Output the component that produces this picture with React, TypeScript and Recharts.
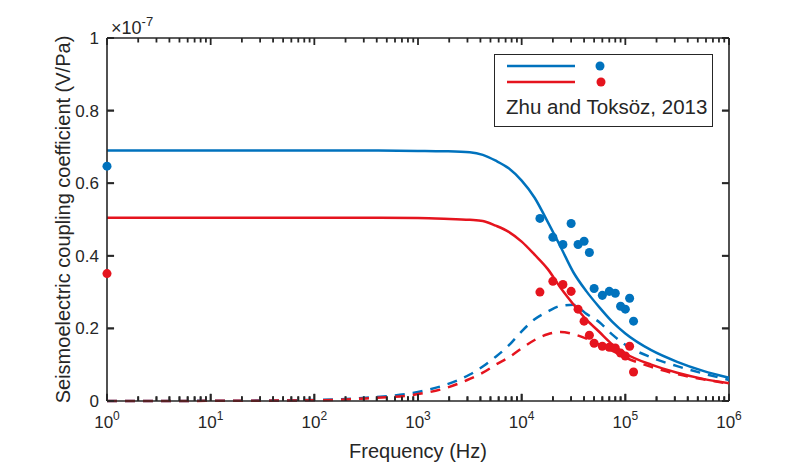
import { ComposedChart, Line, Scatter, XAxis, YAxis, Label, ReferenceLine } from "recharts";

// frequency grid (Hz) for the model curves
const FREQ = [
  1, 10, 100, 316, 1000, 1778, 3162, 4217, 5623, 7499, 10000, 13335, 17783,
  23714, 31623, 42170, 56234, 74989, 100000, 177828, 316228, 562341, 1000000,
];
// values in units of 1e-7 V/Pa
const BLUE_SOLID = [
  0.69, 0.69, 0.69, 0.69, 0.689, 0.688, 0.685, 0.678, 0.662, 0.641, 0.607, 0.56, 0.494,
  0.425, 0.354, 0.302, 0.258, 0.218, 0.186, 0.14, 0.108, 0.083, 0.064,
];
const RED_SOLID = [
  0.505, 0.505, 0.505, 0.505, 0.504, 0.502, 0.499, 0.496, 0.483, 0.466, 0.439, 0.403, 0.364,
  0.312, 0.266, 0.224, 0.19, 0.156, 0.131, 0.1, 0.078, 0.061, 0.049,
];
const BLUE_DASH = [
  0, 0.0005, 0.003, 0.009, 0.025, 0.043, 0.073, 0.095, 0.122, 0.153, 0.192, 0.225, 0.246,
  0.262, 0.265, 0.24, 0.217, 0.183, 0.155, 0.12, 0.096, 0.076, 0.058,
];
const RED_DASH = [
  0, 0.0004, 0.002, 0.007, 0.019, 0.034, 0.061, 0.078, 0.1, 0.12, 0.145, 0.168, 0.184,
  0.19, 0.184, 0.172, 0.155, 0.138, 0.12, 0.094, 0.074, 0.06, 0.048,
];

// measured points (Zhu and Toksöz, 2013)
const MEAS_FREQ = [
  1, 15000, 20000, 25000, 30000, 35000, 40000, 45000, 50000, 60000, 70000, 80000, 90000,
  100000, 110000, 120000,
];
const BLUE_MEAS = [
  0.647, 0.503, 0.451, 0.431, 0.489, 0.431, 0.44, 0.409, 0.31, 0.291, 0.302, 0.297, 0.261,
  0.253, 0.283, 0.22,
];
const RED_MEAS = [
  0.351, 0.3, 0.33, 0.321, 0.302, 0.253, 0.22, 0.181, 0.159, 0.151, 0.148, 0.146, 0.132,
  0.124, 0.151, 0.08,
];

const MAJOR_X = [1, 10, 100, 1000, 10000, 100000, 1000000];
const MINOR_MULT = [2, 3, 4, 5, 6, 7, 8, 9];
const Y_TICKS = [0, 0.2, 0.4, 0.6, 0.8, 1];
const Y_LABELS = ["0", "0.2", "0.4", "0.6", "0.8", "1"];
const X_MIN = 1;
const X_MAX = 1000000;

const MINOR_X = MAJOR_X.slice(0, 6).flatMap((d) => MINOR_MULT.map((m) => m * d));

const BLUE = "#0072bd";
const RED = "#e5141e";
const INK = "#262626";
const FONT = "'Liberation Sans', Arial, sans-serif";

// tick lengths in data units (inward, matlab style)
const MAJ_LEN = 0.02;
const MIN_LEN = 0.013;
const Y_TICK_FACTOR = 1.17; // ~7px along the log x axis

const toRows = (xs: number[], ys: number[]) => xs.map((f, i) => ({ f, v: ys[i] }));

// tick marks placed through the chart scales; dx/dy is the pixel direction of the mark
const TICK_MARKS = [
  ...MAJOR_X.map((f) => ({ f, v: 0, dx: 0, dy: -7 })),
  ...MINOR_X.map((f) => ({ f, v: 0, dx: 0, dy: -4.5 })),
  ...MAJOR_X.map((f) => ({ f, v: 1, dx: 0, dy: 7 })),
  ...MINOR_X.map((f) => ({ f, v: 1, dx: 0, dy: 4.5 })),
  ...Y_TICKS.map((v) => ({ f: X_MIN, v, dx: 7, dy: 0 })),
  ...Y_TICKS.map((v) => ({ f: X_MAX, v, dx: -7, dy: 0 })),
];

const TickMark = (props: any) => {
  const { cx, cy, payload } = props;
  if (cx == null || cy == null || !payload) return <g />;
  return (
    <line x1={cx} y1={cy} x2={cx + payload.dx} y2={cy + payload.dy} stroke={INK} strokeWidth={1.8} />
  );
};

const BottomTick = (props: any) => {
  const { x, y, payload } = props;
  const exp = Math.round(Math.log10(payload.value));
  return (
    <text x={x} y={y + 27} textAnchor="middle" fontSize={17} fill={INK} fontFamily={FONT}>
      10
      <tspan dy={-8} fontSize={12}>
        {exp}
      </tspan>
    </text>
  );
};

const LeftTick = (props: any) => {
  const { x, y, payload, index } = props;
  return (
    <text x={x - 8} y={y + 6} textAnchor="end" fontSize={17} fill={INK} fontFamily={FONT}>
      {Y_LABELS[index] ?? String(payload.value)}
    </text>
  );
};

export default function App() {
  const axisLine = { stroke: INK, strokeWidth: 1.6 };
  const tickStyle = { stroke: INK, strokeWidth: 1.8 };
  const seg = (a: { x: number; y: number }, b: { x: number; y: number }, key: string) => (
    <ReferenceLine key={key} xAxisId="b" yAxisId="l" segment={[a, b]} ifOverflow="visible" {...tickStyle} />
  );
  return (
    <div style={{ position: "absolute", left: 0, top: 0, width: 795, height: 467, background: "#fff", fontFamily: FONT }}>
      <ComposedChart width={795} height={467} margin={{ top: 38, right: 66, bottom: 6, left: 47 }}>
        <XAxis
          xAxisId="b"
          dataKey="f"
          type="number"
          scale="log"
          domain={[X_MIN, X_MAX]}
          ticks={MAJOR_X}
          interval={0}
          height={60}
          tickSize={0}
          tickMargin={0}
          tickLine={false}
          axisLine={axisLine}
          tick={<BottomTick />}
        >
          <Label value="Frequency (Hz)" position="center" dy={20} fontSize={20} fill={INK} fontFamily={FONT} />
        </XAxis>
        <YAxis
          yAxisId="l"
          dataKey="v"
          type="number"
          domain={[0, 1]}
          ticks={Y_TICKS}
          interval={0}
          width={60}
          tickSize={0}
          tickMargin={0}
          tickLine={false}
          axisLine={axisLine}
          tick={<LeftTick />}
        >
          <Label
            value="Seismoelectric coupling coefficient (V/Pa)"
            position="center"
            angle={-90}
            dx={-14}
            fontSize={20}
            fill={INK}
            fontFamily={FONT}
          />
        </YAxis>

        {/* box: top and right edges */}
        <ReferenceLine xAxisId="b" yAxisId="l" y={1} ifOverflow="visible" stroke={INK} strokeWidth={1.6} />
        <ReferenceLine xAxisId="b" yAxisId="l" x={X_MAX} ifOverflow="visible" stroke={INK} strokeWidth={1.6} />

        {/* y ticks as segments (right side) */}
        {Y_TICKS.map((v) => seg({ x: X_MIN, y: v }, { x: X_MIN * Y_TICK_FACTOR, y: v }, `l${v}`))}
        {Y_TICKS.map((v) => seg({ x: X_MAX / Y_TICK_FACTOR, y: v }, { x: X_MAX, y: v }, `r${v}`))}
        {MAJOR_X.map((f) => seg({ x: f, y: 0 }, { x: f, y: MAJ_LEN }, `bM${f}`))}
        {MINOR_X.map((f) => seg({ x: f, y: 0 }, { x: f, y: MIN_LEN }, `bm${f}`))}

        {/* all tick marks, drawn through the scatter scales */}
        <Scatter xAxisId="b" yAxisId="l" data={TICK_MARKS} fill={INK} shape={<TickMark />} isAnimationActive={false} />

        <Line xAxisId="b" yAxisId="l" data={toRows(FREQ, BLUE_DASH)} dataKey="v" type="monotone" stroke={BLUE} strokeWidth={2.5} strokeDasharray="10 8" dot={false} isAnimationActive={false} />
        <Line xAxisId="b" yAxisId="l" data={toRows(FREQ, RED_DASH)} dataKey="v" type="monotone" stroke={RED} strokeWidth={2.5} strokeDasharray="10 8" dot={false} isAnimationActive={false} />
        <Line xAxisId="b" yAxisId="l" data={toRows(FREQ, BLUE_SOLID)} dataKey="v" type="monotone" stroke={BLUE} strokeWidth={2.5} dot={false} isAnimationActive={false} />
        <Line xAxisId="b" yAxisId="l" data={toRows(FREQ, RED_SOLID)} dataKey="v" type="monotone" stroke={RED} strokeWidth={2.5} dot={false} isAnimationActive={false} />
        <Scatter xAxisId="b" yAxisId="l" data={toRows(MEAS_FREQ, BLUE_MEAS)} dataKey="v" fill={BLUE} shape="circle" isAnimationActive={false} />
        <Scatter xAxisId="b" yAxisId="l" data={toRows(MEAS_FREQ, RED_MEAS)} dataKey="v" fill={RED} shape="circle" isAnimationActive={false} />
      </ComposedChart>

      {/* axis exponent */}
      <div style={{ position: "absolute", left: 111, top: 12, fontSize: 18, color: INK, lineHeight: "22px" }}>
        ×10<sup style={{ fontSize: 13, position: "relative", top: -1 }}>-7</sup>
      </div>

      {/* legend */}
      <div
        style={{
          position: "absolute",
          left: 494,
          top: 54,
          width: 219,
          height: 73,
          boxSizing: "border-box",
          border: `1.5px solid ${INK}`,
          background: "#fff",
        }}
      >
        <svg width={216} height={40} style={{ position: "absolute", left: 0, top: 0 }}>
          <line x1={12} x2={80} y1={11} y2={11} stroke={BLUE} strokeWidth={2.5} />
          <circle cx={105} cy={11} r={4.5} fill={BLUE} />
          <line x1={12} x2={80} y1={27} y2={27} stroke={RED} strokeWidth={2.5} />
          <circle cx={106} cy={27} r={4.5} fill={RED} />
        </svg>
        <div style={{ position: "absolute", left: 11, top: 40, fontSize: 20.5, color: INK, whiteSpace: "nowrap", lineHeight: "24px" }}>
          Zhu and Toksöz, 2013
        </div>
      </div>
    </div>
  );
}
